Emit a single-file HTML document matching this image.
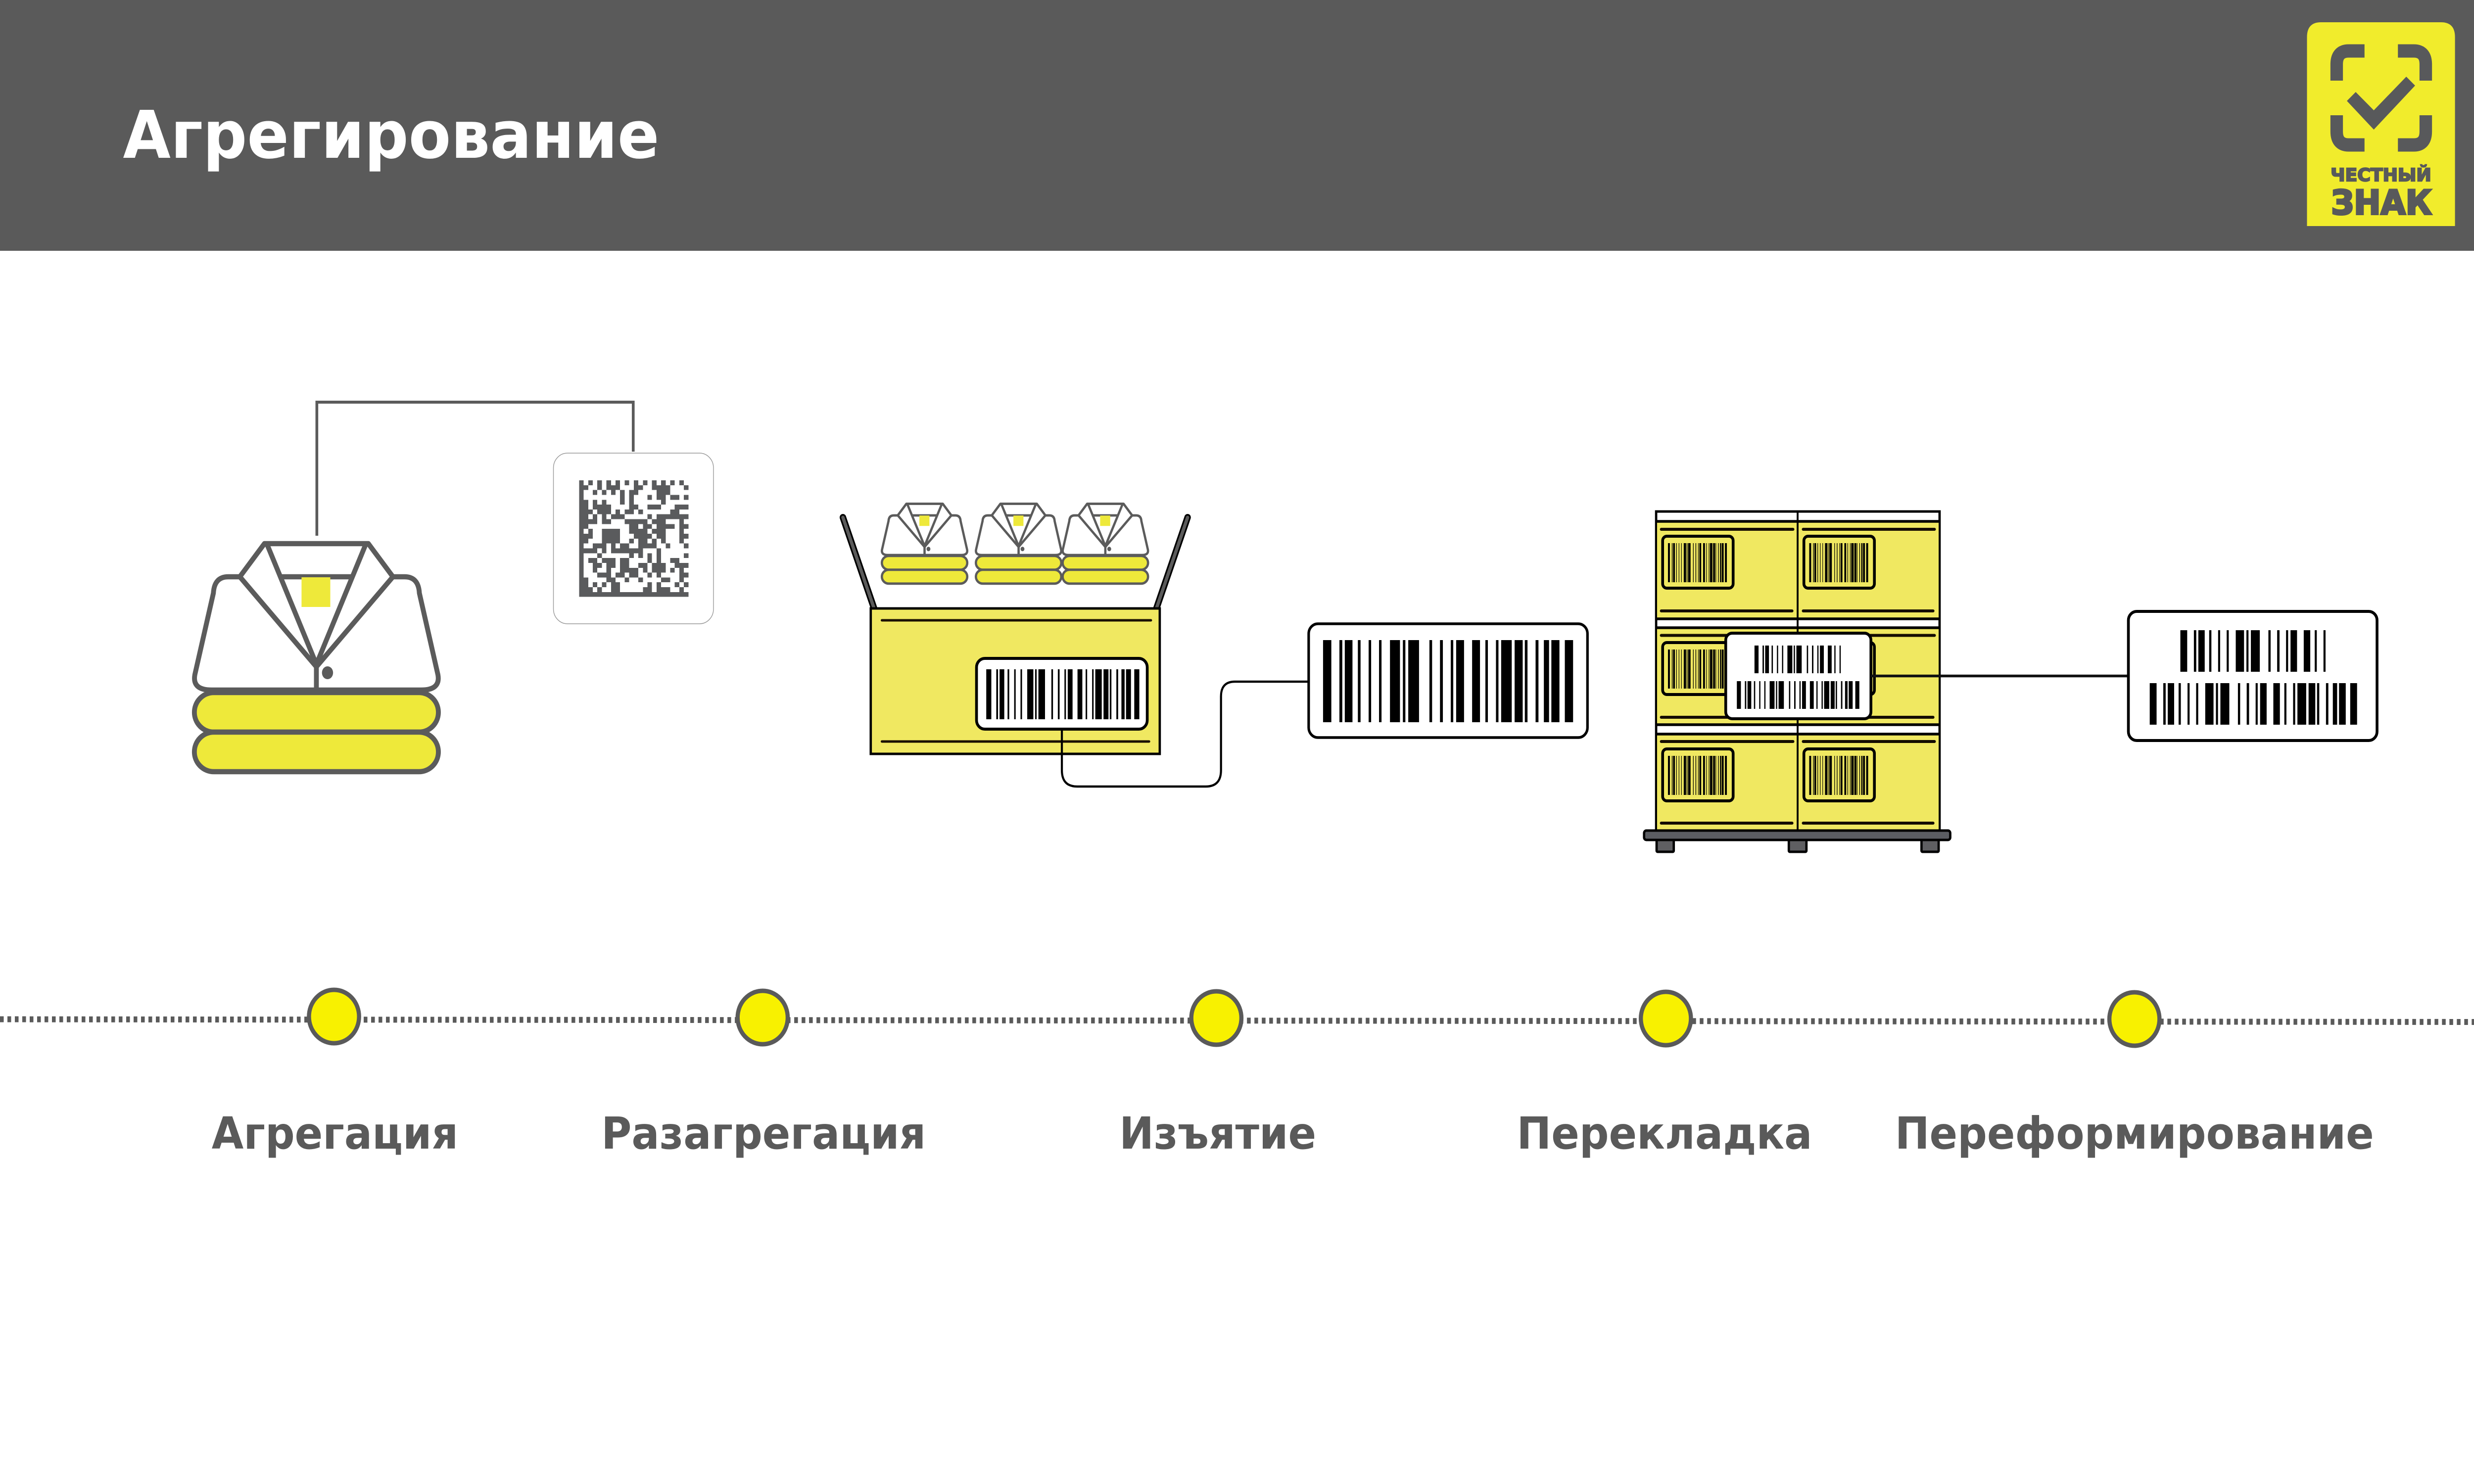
<!DOCTYPE html>
<html><head><meta charset="utf-8"><title>Агрегирование</title>
<style>html,body{margin:0;padding:0;background:#fff;width:100%;height:100%;overflow:hidden}svg{display:block;width:100vw;height:100vh}text{font-family:"DejaVu Sans","Liberation Sans",sans-serif;font-weight:700}</style></head>
<body>
<svg xmlns="http://www.w3.org/2000/svg" viewBox="0 0 5333 3000" preserveAspectRatio="none">
<defs>
<path id="b" d="M0 0h43v1h-43zM85 0h15v1h-15zM113 0h40v1h-40zM181 0h14v1h-14zM237 0h13v1h-13zM291 0h13v1h-13zM348 0h52v1h-52zM415 0h13v1h-13zM443 0h56v1h-56zM553 0h14v1h-14zM608 0h15v1h-15zM664 0h13v1h-13zM692 0h41v1h-41zM775 0h41v1h-41zM844 0h13v1h-13zM899 0h13v1h-13zM926 0h55v1h-55zM996 0h42v1h-42zM1049 0h14v1h-14zM1105 0h15v1h-15zM1148 0h27v1h-27zM1187 0h42v1h-42zM1257 0h43v1h-43z"/>
<path id="b2" d="M0 0h43v1h-43zM85 0h15v1h-15zM113 0h40v1h-40zM181 0h14v1h-14zM237 0h13v1h-13zM291 0h13v1h-13zM348 0h52v1h-52zM415 0h13v1h-13zM443 0h56v1h-56zM553 0h14v1h-14zM608 0h15v1h-15zM664 0h13v1h-13zM692 0h41v1h-41zM775 0h41v1h-41zM844 0h13v1h-13zM899 0h13v1h-13z"/>
<g id="jacket" fill="none" stroke="#5b5b5b" stroke-linejoin="round">
<path d="M517 1166H492Q462 1166 460 1199L420 1364Q414 1395 456 1395H908Q950 1395 944 1364L904 1199Q902 1166 872 1166H847" fill="#fff"/>
<path d="M517 1166L570 1099H794L847 1166L682 1348Z" fill="#fff"/>
<path d="M575 1099L682 1343L789 1099M603 1166H761M682 1348V1395"/>
<rect x="650" y="1167" width="62" height="60" fill="#EEE93A" stroke="none"/>
<ellipse cx="706" cy="1360" rx="12" ry="13" fill="#5b5b5b" stroke="none"/>
<rect x="419" y="1400" width="526" height="80" rx="42" fill="#EEE93A"/>
<rect x="419" y="1480" width="526" height="80" rx="42" fill="#EEE93A"/>
</g>
<g id="plabel">
<rect x="0" y="0" width="152" height="105" rx="9" fill="none" stroke="#000" stroke-width="6"/>
<use href="#b" transform="translate(11.5,14) scale(.0977,79)"/>
</g>
</defs>

<rect x="0" y="0" width="5333" height="507" fill="#5a5a5a"/>
<text x="265" y="319" font-size="133" fill="#fff">Агрегирование</text>

<!-- logo -->
<path d="M4973 457V75Q4973 45 5003 45H5262Q5292 45 5292 75V457Z" fill="#F1EC2C"/>
<g fill="none" stroke="#58595B" stroke-width="27">
<path d="M5097 103H5063Q5037 103 5037 130V163"/>
<path d="M5169 103H5203Q5229 103 5229 130V163"/>
<path d="M5097 293H5063Q5037 293 5037 266V233"/>
<path d="M5169 293H5203Q5229 293 5229 266V233"/>
</g>
<polygon points="5059,204 5078,186 5117,223 5187,155 5206,173 5117,262" fill="#58595B"/>
<text x="5024" y="366" font-size="36" textLength="217" lengthAdjust="spacingAndGlyphs" fill="#58595B" stroke="#58595B" stroke-width="2.5">ЧЕСТНЫЙ</text>
<text x="5025" y="433" font-size="68" textLength="217" lengthAdjust="spacingAndGlyphs" fill="#58595B" stroke="#58595B" stroke-width="4">ЗНАК</text>

<!-- stage 1 -->
<path d="M683 1083V813H1365V913" fill="none" stroke="#5b5b5b" stroke-width="6"/>
<use href="#jacket" stroke-width="10.5"/>
<rect x="1193" y="916" width="345" height="345" rx="30" fill="#fff" stroke="#9a9a9a" stroke-width="1.5"/>
<g transform="translate(1248.3,971) scale(9.82)"><path transform="translate(0,.5)" shape-rendering="crispEdges" fill="none" stroke="#5a5b5d" stroke-width="1" d="M0 0h1M2 0h1M4 0h1M6 0h1M8 0h1M10 0h1M12 0h1M14 0h1M16 0h1M18 0h1M20 0h1M22 0h1M0 1h2M4 1h1M6 1h3M12 1h2M16 1h4M23 1h1M0 2h1M3 2h1M5 2h1M7 2h1M9 2h1M11 2h2M17 2h3M0 3h1M9 3h1M11 3h1M15 3h1M17 3h2M20 3h2M23 3h1M0 4h2M3 4h1M5 4h1M9 4h1M11 4h1M18 4h1M0 5h2M3 5h4M11 5h2M15 5h3M21 5h3M0 6h3M4 6h3M8 6h1M10 6h2M13 6h1M20 6h2M0 7h2M3 7h1M5 7h1M7 7h3M15 7h1M17 7h7M0 8h4M5 8h2M10 8h5M16 8h3M22 8h1M0 9h2M11 9h2M14 9h2M17 9h4M22 9h2M0 10h1M2 10h1M5 10h4M11 10h4M16 10h3M22 10h1M0 11h3M5 11h4M12 11h4M17 11h2M22 11h2M0 12h2M5 12h4M11 12h1M13 12h2M16 12h1M18 12h1M22 12h1M0 13h1M3 13h3M7 13h1M9 13h2M13 13h4M19 13h1M23 13h1M0 14h4M5 14h1M7 14h7M17 14h1M0 15h1M4 15h1M11 15h1M13 15h1M15 15h1M17 15h1M23 15h1M0 16h1M2 16h2M5 16h3M9 16h2M15 16h1M17 16h1M20 16h2M0 17h1M3 17h2M6 17h2M9 17h2M13 17h2M16 17h3M21 17h3M0 18h1M3 18h1M6 18h1M9 18h4M14 18h1M16 18h3M20 18h1M22 18h1M0 19h1M4 19h3M8 19h2M11 19h2M15 19h1M17 19h1M22 19h2M0 20h2M6 20h2M10 20h1M13 20h1M18 20h2M22 20h1M0 21h2M3 21h1M5 21h1M7 21h2M15 21h1M17 21h1M21 21h1M23 21h1M0 22h3M4 22h1M7 22h2M14 22h2M17 22h3M22 22h1M0 23h24"/></g>

<!-- stage 2 -->
<use href="#jacket" stroke-width="14" transform="translate(1754.3,633.8) scale(.35)"/>
<use href="#jacket" stroke-width="14" transform="translate(1957,633.8) scale(.35)"/>
<use href="#jacket" stroke-width="14" transform="translate(2144,633.8) scale(.35)"/>
<g fill="none" stroke-linecap="round">
<path d="M1817 1046L1885 1232" stroke="#000" stroke-width="14"/>
<path d="M1817 1046L1885 1232" stroke="#5b5b5b" stroke-width="7"/>
<path d="M2560 1046L2492 1232" stroke="#000" stroke-width="14"/>
<path d="M2560 1046L2492 1232" stroke="#5b5b5b" stroke-width="7"/>
</g>
<rect x="1877" y="1230" width="623" height="294" fill="#F0E861" stroke="#000" stroke-width="5"/>
<path d="M1901 1254H2481M1901 1499H2477" stroke="#1a1000" stroke-width="5" stroke-linecap="round"/>
<rect x="2105" y="1331" width="368" height="143" rx="18" fill="#fff" stroke="#000" stroke-width="6"/>
<use href="#b" transform="translate(2126,1353) scale(.2538,101)"/>
<path d="M2289 1474V1557Q2289 1590 2322 1590H2599Q2632 1590 2632 1557V1408Q2632 1378 2662 1378H2822" fill="none" stroke="#000" stroke-width="4.5"/>
<rect x="2821" y="1261" width="601" height="230" rx="20" fill="#fff" stroke="#000" stroke-width="5.5"/>
<use href="#b" transform="translate(2852,1294) scale(.4146,166)"/>

<!-- stage 3 -->
<rect x="3570" y="1034" width="611" height="646" fill="#fff" stroke="#000" stroke-width="5"/>
<g fill="#F0E861">
<rect x="3572" y="1056" width="607" height="194"/>
<rect x="3572" y="1271" width="607" height="193"/>
<rect x="3572" y="1486" width="607" height="192"/>
</g>
<g stroke="#000" fill="none">
<path d="M3570 1054H4181M3570 1251H4181M3570 1269H4181M3570 1465H4181M3570 1484H4181" stroke-width="5.5"/>
<path d="M3875 1034V1680" stroke-width="4"/>
<path d="M3581 1070H3865M3887 1070H4170M3581 1235H3863M3887 1235H4167M3581 1284.5H3865M3887 1284.5H4170M3581 1450H3863M3887 1450H4167M3581 1499H3865M3887 1499H4170M3581 1664H3863M3887 1664H4167" stroke-width="6" stroke="#140c00" stroke-linecap="round"/>
</g>
<use href="#plabel" transform="translate(3584,1084)"/>
<use href="#plabel" transform="translate(3888.5,1084)"/>
<use href="#plabel" transform="translate(3584,1299)"/>
<use href="#plabel" transform="translate(3888.5,1299)"/>
<use href="#plabel" transform="translate(3584,1514)"/>
<use href="#plabel" transform="translate(3888.5,1514)"/>
<rect x="3720" y="1280" width="313" height="173" rx="14" fill="#fff" stroke="#000" stroke-width="6"/>
<use href="#b2" transform="translate(3782,1305) scale(.2039,56)"/>
<use href="#b" transform="translate(3744,1377) scale(.2031,56)"/>
<path d="M4033 1366.500H4590" stroke="#111" stroke-width="5.500"/>
<rect x="4588" y="1236" width="536" height="261" rx="18" fill="#fff" stroke="#000" stroke-width="6"/>
<use href="#b2" transform="translate(4700,1274) scale(.3432,84)"/>
<use href="#b" transform="translate(4634,1381) scale(.3438,84)"/>

<rect x="3544" y="1679" width="660" height="19" rx="5" fill="#5b5d62" stroke="#000" stroke-width="5"/>
<g fill="#5f5f62" stroke="#000" stroke-width="5">
<rect x="3571" y="1698" width="37" height="24" rx="2"/>
<rect x="3856" y="1698" width="38" height="24" rx="2"/>
<rect x="4142" y="1698" width="37" height="24" rx="2"/>
</g>

<!-- timeline -->
<path d="M0 2060.500L5333 2066" fill="none" stroke="#5a5a5a" stroke-width="12" stroke-dasharray="8 8"/>
<g fill="#F8F100" stroke="#5a5a5a" stroke-width="9">
<circle cx="720" cy="2055" r="54"/>
<circle cx="1644" cy="2057" r="54"/>
<circle cx="2622" cy="2058" r="54"/>
<circle cx="3591" cy="2059" r="54"/>
<circle cx="4601" cy="2060" r="54"/>
</g>
<g font-size="89" fill="#5a5a5a" text-anchor="middle">
<text x="722" y="2322">Агрегация</text>
<text x="1646" y="2322">Разагрегация</text>
<text x="2625" y="2322">Изъятие</text>
<text x="3588" y="2322">Перекладка</text>
<text x="4601" y="2322">Переформирование</text>
</g>
</svg>
</body></html>
